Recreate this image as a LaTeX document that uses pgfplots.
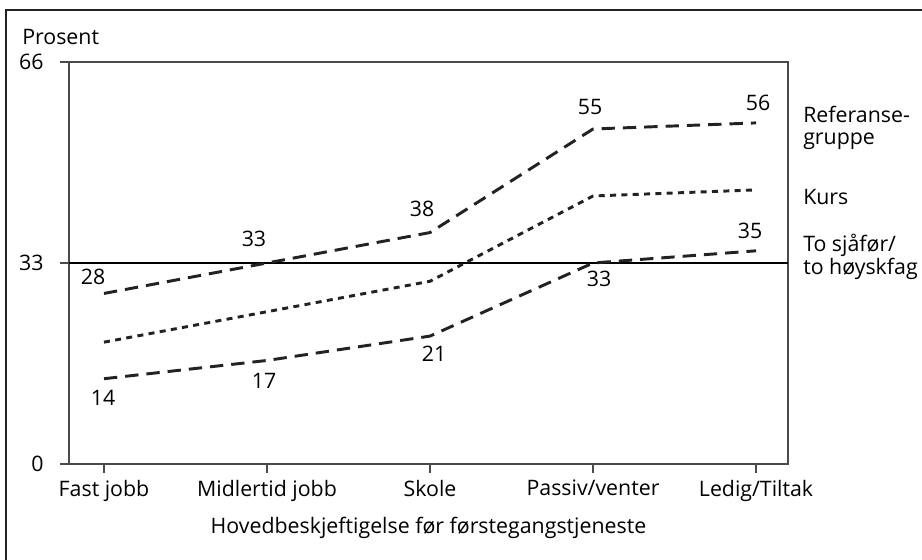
\documentclass[border=0pt]{standalone}
\usepackage{fontspec}
\setmainfont{Open Sans}
\usepackage{pgfplots}
\pgfplotsset{compat=1.18}

\definecolor{axisgray}{HTML}{4A4A4A}
\definecolor{ink}{HTML}{222222}

\begin{document}
\begin{tikzpicture}[font=\fontsize{16}{17}\selectfont]
% page = 922 x 560 px, 1 px = 0.75 pt
\useasboundingbox (0,0) rectangle (691.5pt,420pt);
\draw[ink, line width=2pt] (4.5pt,0pt) -- (4.5pt,412.5pt) -- (691.5pt,412.5pt);

\begin{axis}[
    at={(51.75pt,72pt)}, anchor=south west,
    scale only axis,
    width=539.25pt, height=301.5pt,
    xmin=-0.2147, xmax=4.196,
    ymin=0, ymax=66,
    xtick={0,1,2,3,4},
    xticklabels={Fast jobb, Midlertid jobb, Skole, Passiv/venter, Ledig/Tiltak},
    ytick={0,33,66},
    xtick pos=bottom, ytick pos=left,
    tick align=outside,
    major tick length=6.5pt,
    tick style={axisgray, line width=0.9pt},
    axis line style={axisgray, line width=1.3pt},
    xticklabel style={yshift=-2pt},
    yticklabel style={xshift=-9pt},
    /pgf/number format/assume math mode=true,
    xlabel={Hovedbeskjeftigelse før førstegangstjeneste},
    xlabel style={yshift=-5pt},
    clip=false,
]
  % 33 reference line
  \addplot[black, line width=1pt] coordinates {(-0.2147,33) (4.196,33)};

  % Referansegruppe
  \addplot[ink, line width=2.2pt, dash pattern=on 10pt off 6pt] coordinates {(0,28)(1,33)(2,38)(3,55)(4,56)};
  % Kurs
  \addplot[ink, line width=2.2pt, dash pattern=on 4.5pt off 4pt] coordinates {(0,20)(1,25)(2,30)(3,44)(4,45)};
  % To sjåfør / to høyskfag
  \addplot[ink, line width=2.2pt, dash pattern=on 10pt off 6pt] coordinates {(0,14)(1,17)(2,21)(3,33)(4,35)};

  % value labels
  \node at (axis cs:-0.067,30.7) {28};
  \node at (axis cs:0.920,36.9) {33};
  \node at (axis cs:1.951,41.9) {38};
  \node at (axis cs:2.982,58.6) {55};
  \node at (axis cs:4.012,59.3) {56};
  \node at (axis cs:-0.006,10.8) {14};
  \node at (axis cs:0.982,13.6) {17};
  \node at (axis cs:2.025,18.1) {21};
  \node at (axis cs:3.037,30.4) {33};
  \node at (axis cs:3.963,38.3) {35};
\end{axis}

\node[anchor=west, inner sep=0pt] at (16.5pt,392.25pt) {Prosent};
\node[anchor=west, align=left, inner sep=0pt] at (602.25pt,324pt) {Referanse-\\gruppe};
\node[anchor=west, align=left, inner sep=0pt] at (602.25pt,272.25pt) {Kurs};
\node[anchor=west, align=left, inner sep=0pt] at (602.25pt,227.25pt) {To sjåfør/\\to høyskfag};
\end{tikzpicture}
\end{document}
